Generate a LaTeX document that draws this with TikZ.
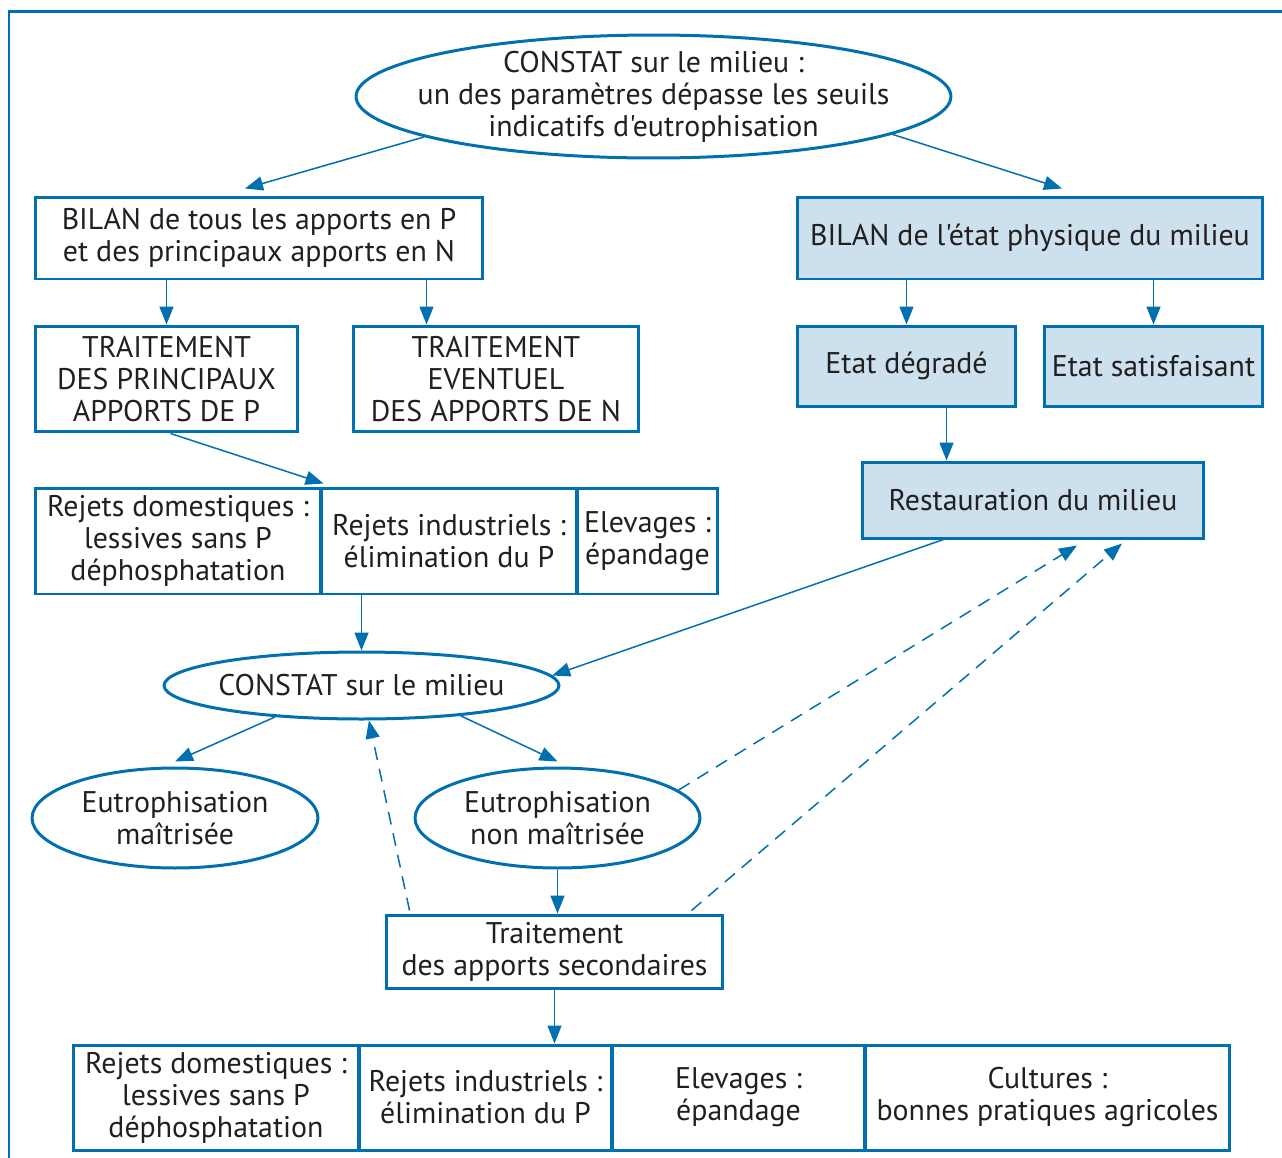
\documentclass[tikz,border=0pt]{standalone}
\usepackage{fontspec}
\setmainfont{PT Sans}[Ligatures=TeXOff]
\usepackage{tikz}
\usetikzlibrary{calc,arrows.meta,shapes.geometric}
\definecolor{eaublue}{RGB}{0,112,176}
\definecolor{eaufill}{RGB}{204,224,238}
\definecolor{eautext}{RGB}{35,31,32}
\tikzset{
	box/.style={draw=eaublue, line width=0.06cm, inner sep=0pt, align=center, text=eautext},
	fbox/.style={box, fill=eaufill},
	ell/.style={draw=eaublue, line width=0.06cm, ellipse, inner xsep=-1cm, inner ysep=-0.5cm, align=center, text=eautext},
	arr/.style={draw=eaublue, line width=0.03cm, -{Triangle[length=0.36cm,width=0.28cm]}},
	darr/.style={arr, dash pattern=on 0.26cm off 0.18cm}
}

\begin{document}
\begin{tikzpicture}[x=0.02cm, y=-0.02cm, font=\fontsize{17}{18.2}\selectfont]
		%%%%% START %%%%%
		\useasboundingbox (0, 0) rectangle (1282, 1157);
		
		\draw[eaublue, line width=0.06cm] (9, 1160) -- (9, 11) -- (1285, 11);
		
		\node[ell, minimum width=11.9cm, minimum height=2.46cm] (top) at (653.5, 96.5) {CONSTAT sur le milieu :\\un des paramètres dépasse les seuils\\indicatifs d'eutrophisation};
		
		\node[box, minimum width=8.96cm, minimum height=1.64cm] (bilan1) at (259, 238) {BILAN de tous les apports en P\\et des principaux apports en N};
		\node[fbox, minimum width=9.32cm, minimum height=1.64cm] (bilan2) at (1030, 238) {BILAN de l'état physique du milieu};
		
		\node[box, minimum width=5.26cm, minimum height=2.12cm] (trait1) at (166.5, 379) {TRAITEMENT\\DES PRINCIPAUX\\APPORTS DE P};
		\node[box, minimum width=5.72cm, minimum height=2.12cm] (trait2) at (496, 379) {TRAITEMENT\\EVENTUEL\\DES APPORTS DE N};
		\node[fbox, minimum width=4.38cm, minimum height=1.6cm] (deg) at (906.5, 366) {Etat dégradé};
		\node[fbox, minimum width=4.38cm, minimum height=1.6cm] (sat) at (1153.5, 366) {Etat satisfaisant};
		
		\node[fbox, minimum width=6.84cm, minimum height=1.52cm] (rest) at (1033, 500) {Restauration du milieu};
		
		\node[box, minimum width=5.72cm, minimum height=2.12cm] (dom1) at (178, 541) {Rejets domestiques :\\lessives sans P\\déphosphatation};
		\node[box, minimum width=5.12cm, minimum height=2.12cm] (ind1) at (449, 541) {Rejets industriels :\\élimination du P};
		\node[box, minimum width=2.82cm, minimum height=2.12cm] (elev1) at (647.5, 541) {Elevages :\\épandage};
		
		\node[ell, minimum width=7.9cm, minimum height=1.34cm] (constat) at (361.5, 685.5) {CONSTAT sur le milieu};
		
		\node[ell, minimum width=5.72cm, minimum height=2cm] (eut1) at (175, 818) {Eutrophisation\\maîtrisée};
		\node[ell, minimum width=5.7cm, minimum height=2cm] (eut2) at (557.5, 818) {Eutrophisation\\non maîtrisée};
		
		\node[box, minimum width=6.74cm, minimum height=1.46cm] (sec) at (554.5, 951.5) {Traitement\\des apports secondaires};
		
		\node[box, minimum width=5.72cm, minimum height=2.1cm] (dom2) at (216, 1097.5) {Rejets domestiques :\\lessives sans P\\déphosphatation};
		\node[box, minimum width=5.06cm, minimum height=2.1cm] (ind2) at (485.5, 1097.5) {Rejets industriels :\\élimination du P};
		\node[box, minimum width=5.06cm, minimum height=2.1cm] (elev2) at (738.5, 1097.5) {Elevages :\\épandage};
		\node[box, minimum width=7.3cm, minimum height=2.1cm] (cult) at (1047.5, 1097.5) {Cultures :\\bonnes pratiques agricoles};
		
		\coordinate (t2in) at ($(trait2.north west)+(75, 0)$);
		\coordinate (rin) at ($(rest.north west)+(86, 0)$);
		
		\draw[arr] (top.190) -- ($(bilan1.north)+(-14, -7)$);
		\draw[arr] (top.-9) -- ($(bilan2.north)+(32, -7)$);
		\draw[arr] (bilan1.south -| trait1.north) -- (trait1.north);
		\draw[arr] (bilan1.south -| t2in) -- (t2in);
		\draw[arr] (bilan2.south -| deg.north) -- (deg.north);
		\draw[arr] (bilan2.south -| sat.north) -- (sat.north);
		\draw[arr] (deg.south -| rin) -- (rin);
		
		\draw[arr] ($(trait1.south)+(4, 0)$) -- ($(ind1.north west)+(4, -3)$);
		\draw[arr] (ind1.south -| constat.north) -- (constat.north);
		\draw[arr] ($(rest.south west)+(83, 0)$) -- (constat.3);
		
		\draw[arr] (constat.200) -- ($(eut1.north)+(0, -5)$);
		\draw[arr] (constat.-17) -- ($(eut2.north)+(0, -5)$);
		\draw[arr] (eut2.south) -- (eut2.south |- sec.north);
		\draw[arr] (sec.south) -- (sec.south |- ind2.north);
		
		\draw[darr] (eut2.13) -- ($(rest.south)+(44, 6)$);
		\draw[darr] ($(sec.north east)+(-33, -3)$) -- ($(rest.south)+(89, 4)$);
		\draw[darr] ($(sec.north west)+(25, -3)$) -- (constat.-78);
		
		%%%%% END %%%%%
\end{tikzpicture}
\end{document}
